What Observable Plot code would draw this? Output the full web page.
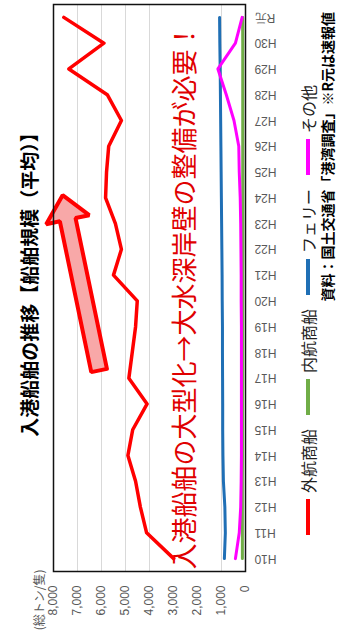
<!DOCTYPE html>
<html><head><meta charset="utf-8">
<script src="https://cdn.jsdelivr.net/npm/d3@7"></script>
<script src="https://cdn.jsdelivr.net/npm/@observablehq/plot@0.6"></script>
<style>
html,body{margin:0;padding:0;background:#fff;width:337px;height:630px;overflow:hidden;}
#rot{position:absolute;left:0;top:0;width:630px;height:337px;transform-origin:0 0;transform:translate(0,630px) rotate(-90deg);font-family:"Noto Sans CJK JP","Noto Sans",sans-serif;background:#fff;}
#title{position:absolute;top:17px;left:350px;transform:translateX(-50%);white-space:nowrap;font-size:19px;font-weight:bold;line-height:24px;color:#000;}
#chart{position:absolute;top:40px;left:0;}
#legend{position:absolute;top:296px;left:95px;display:flex;align-items:center;font-size:16px;line-height:24px;white-space:nowrap;color:#222;}
.item{display:flex;align-items:center;margin-right:14px}
.sw{width:36px;height:4px;margin-right:6px}
#caption{position:absolute;top:318px;right:12px;font-size:14px;line-height:18px;font-weight:bold;white-space:nowrap;color:#000;}
</style></head>
<body>
<div id="rot">
  <div id="title">入港船舶の推移【船舶規模（平均）】</div>
  <div id="chart"></div>
  <div id="legend"></div>
  <div id="caption">資料：国土交通省「港湾調査」※R元は速報値</div>
</div>
<script>
const years = ["H10","H11","H12","H13","H14","H15","H16","H17","H18","H19","H20","H21","H22","H23","H24","H25","H26","H27","H28","H29","H30","R元"];
const gaiko  = [2990,4120,4380,4580,4900,4700,4100,4860,4720,4580,4510,5500,5170,5420,5830,5790,5700,5170,5760,7360,5900,7570];
const naiko  = [130,130,130,130,125,125,125,120,120,120,120,120,115,115,115,115,115,115,115,115,115,120];
const ferry  = [880,840,860,920,940,950,950,955,960,960,970,975,985,995,1005,1015,1025,1035,1045,1055,1070,1080];
const sonota = [420,260,200,180,170,170,170,170,170,170,180,180,190,200,220,260,280,480,800,1150,420,140];
const seriesNames = ["外航商船","内航商船","フェリー","その他"];
const seriesColors = ["#ff0000","#70ad47","#1f6fb5","#ff00ff"];
const yTicks = [0,1000,2000,3000,4000,5000,6000,7000,8000];
const unitLabel = "(総トン/隻)";
const noteText = "入港船舶の大型化→大水深岸壁の整備が必要！";
const noteValue = 2500;
const noteBox = [1450, 3550];
const arrowFrom = [7.3, 6100];
const arrowTo = [14.1, 7620];

const W = 630, H = 245, mL = 58, mR = 5, mT = 13, mB = 40;
const idx = years.map((_, i) => i);
const pxX = (W - mL - mR) / years.length;
const pxY = (H - mT - mB) / 8000;

function arrowPolygon(from, to, hs, hh, hl) {
  const ax = from[0] * pxX, ay = -from[1] * pxY, bx = to[0] * pxX, by = -to[1] * pxY;
  const L = Math.hypot(bx - ax, by - ay), dx = (bx - ax) / L, dy = (by - ay) / L, nx = -dy, ny = dx;
  const cx = bx - dx * hl, cy = by - dy * hl;
  const pts = [[ax + nx * hs, ay + ny * hs], [cx + nx * hs, cy + ny * hs], [cx + nx * hh, cy + ny * hh], [bx, by],
               [cx - nx * hh, cy - ny * hh], [cx - nx * hs, cy - ny * hs], [ax - nx * hs, ay - ny * hs], [ax + nx * hs, ay + ny * hs]];
  return pts.map(([x, y]) => ({i: x / pxX, v: -y / pxY}));
}
const arrowPts = arrowPolygon(arrowFrom, arrowTo, 8, 22, 25);
const allSeries = [gaiko, naiko, ferry, sonota];
const jp = "Noto Sans CJK JP";

const chart = Plot.plot({
  width: W, height: H,
  marginLeft: mL, marginRight: mR, marginTop: mT, marginBottom: mB,
  style: {fontSize: "12px", fontFamily: "Liberation Sans, Arial, sans-serif", color: "#595959", background: "white", overflow: "visible"},
  x: {domain: [-0.5, years.length - 0.5], ticks: idx, tickFormat: i => years[i], tickRotate: -90, tickSize: 0, tickPadding: 9, label: null},
  y: {domain: [0, 8000], ticks: yTicks, tickFormat: d3.format(","), tickSize: 0, tickPadding: 14, label: null},
  marks: [
    Plot.ruleY(yTicks, {stroke: "#d9d9d9", strokeWidth: 1}),
    Plot.rect([{a: -0.5, b: years.length - 0.5, lo: noteBox[0], hi: noteBox[1]}], {x1: "a", x2: "b", y1: "lo", y2: "hi", fill: "white"}),
    Plot.text([{v: noteValue, t: noteText}], {y: "v", text: "t", frameAnchor: "left", textAnchor: "start", dx: 2, fontSize: 26, fill: "#e00000", fontFamily: jp}),
    Plot.line(arrowPts, {x: "i", y: "v", fill: "#f8a8a8", stroke: "#ff0000", strokeWidth: 4, strokeLinejoin: "miter", curve: "linear"}),
    ...allSeries.map((s, k) => Plot.line(idx, {x: i => i, y: i => s[i], stroke: seriesColors[k], strokeWidth: k === 0 ? 3.5 : 3, strokeLinejoin: "round", strokeLinecap: "round"})),
    Plot.text([unitLabel], {text: d => d, frameAnchor: "top-left", textAnchor: "end", dx: 2, dy: -18, fontSize: 12, fill: "#595959", fontFamily: jp}),
    Plot.frame({stroke: "#111", strokeWidth: 1.5})
  ]
});
document.getElementById("chart").appendChild(chart);

const legend = document.getElementById("legend");
seriesNames.forEach((n, k) => {
  const it = document.createElement("div"); it.className = "item";
  const sw = document.createElement("div"); sw.className = "sw"; sw.style.background = seriesColors[k];
  const t = document.createElement("span"); t.textContent = n;
  it.appendChild(sw); it.appendChild(t); legend.appendChild(it);
});
</script>
</body></html>
